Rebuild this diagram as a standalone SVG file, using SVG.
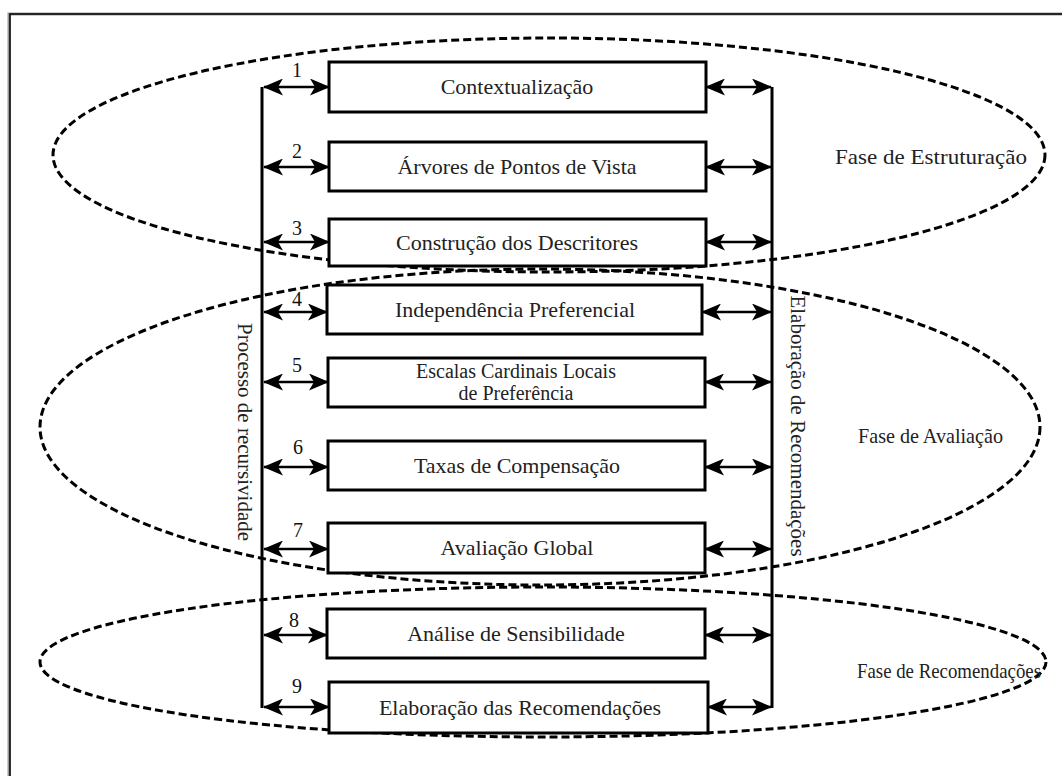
<svg xmlns="http://www.w3.org/2000/svg" width="1062" height="776" viewBox="0 0 1062 776">
  <style>
    .box { fill: #fff; stroke: #000; stroke-width: 3; }
    .bar { stroke: #000; stroke-width: 3; fill: none; }
    .link { stroke: #000; stroke-width: 2.5; fill: none; marker-start: url(#head); marker-end: url(#head); }
    .phase { fill: none; stroke: #000; stroke-width: 3; stroke-dasharray: 8 4; }
    .label { font-family: "Liberation Serif", "Times New Roman", serif; font-size: 22px; fill: #222; text-anchor: middle; }
    .small { font-size: 20px; }
    .num { font-family: "Liberation Serif", "Times New Roman", serif; font-size: 20px; fill: #111; text-anchor: middle; }
    .side { font-family: "Liberation Serif", "Times New Roman", serif; font-size: 21px; fill: #222; text-anchor: middle; }
    .tag { font-family: "Liberation Serif", "Times New Roman", serif; font-size: 21px; fill: #222; }
  </style>
  <defs>
    <marker id="head" viewBox="0 0 20 17" refX="19" refY="8.5" markerWidth="20" markerHeight="17" markerUnits="userSpaceOnUse" orient="auto-start-reverse">
      <path d="M0,0 L20,8.5 L0,17 L5,8.5 z" fill="#000"/>
    </marker>
  </defs>

  <rect width="1062" height="776" fill="#fff"/>
  <!-- outer frame (top and left edges) -->
  <path d="M9,776 V14 H1062" fill="none" stroke="#999" stroke-width="3"/>
  <path d="M10,776 V14 H1062" fill="none" stroke="#000" stroke-width="1.5"/>

  <!-- phase ellipses -->
  <g id="phases">
    <ellipse class="phase" cx="549" cy="155" rx="496" ry="117"/>
    <ellipse class="phase" cx="540" cy="427" rx="500" ry="158"/>
    <ellipse class="phase" cx="543" cy="662" rx="503" ry="75"/>
  </g>

  <!-- side rails and connectors -->
  <g id="connectors">
    <line class="bar" x1="262" y1="87" x2="262" y2="708"/>
    <line class="bar" x1="772" y1="87" x2="772" y2="708"/>
    <line class="link" x1="264" y1="87" x2="329" y2="87"/>
    <line class="link" x1="706" y1="87" x2="771" y2="87"/>
    <line class="link" x1="264" y1="167" x2="329" y2="167"/>
    <line class="link" x1="706" y1="167" x2="771" y2="167"/>
    <line class="link" x1="264" y1="242" x2="329" y2="242"/>
    <line class="link" x1="706" y1="242" x2="771" y2="242"/>
    <line class="link" x1="264" y1="312" x2="327" y2="312"/>
    <line class="link" x1="702" y1="312" x2="771" y2="312"/>
    <line class="link" x1="264" y1="382" x2="328" y2="382"/>
    <line class="link" x1="705" y1="382" x2="771" y2="382"/>
    <line class="link" x1="264" y1="467" x2="328" y2="467"/>
    <line class="link" x1="705" y1="467" x2="771" y2="467"/>
    <line class="link" x1="264" y1="549" x2="328" y2="549"/>
    <line class="link" x1="705" y1="549" x2="771" y2="549"/>
    <line class="link" x1="264" y1="635" x2="327" y2="635"/>
    <line class="link" x1="705" y1="635" x2="771" y2="635"/>
    <line class="link" x1="264" y1="707" x2="329" y2="707"/>
    <line class="link" x1="708" y1="707" x2="771" y2="707"/>
    <text class="num" x="297" y="77">1</text>
    <text class="num" x="297" y="158">2</text>
    <text class="num" x="297" y="235">3</text>
    <text class="num" x="297" y="306">4</text>
    <text class="num" x="297" y="372">5</text>
    <text class="num" x="298" y="454">6</text>
    <text class="num" x="298" y="537">7</text>
    <text class="num" x="294" y="627">8</text>
    <text class="num" x="297" y="693">9</text>
  </g>

  <g id="n1"><rect class="box" x="329" y="62" width="377" height="50"/><text class="label" x="517" y="94">Contextualização</text></g>
  <g id="n2"><rect class="box" x="329" y="142" width="377" height="49"/><text class="label" x="517" y="174">Árvores de Pontos de Vista</text></g>
  <g id="n3"><rect class="box" x="329" y="219" width="377" height="47"/><text class="label" x="517" y="250">Construção dos Descritores</text></g>
  <g id="n4"><rect class="box" x="327" y="285" width="375" height="49"/><text class="label" x="515" y="317">Independência Preferencial</text></g>
  <g id="n5"><rect class="box" x="328" y="358" width="377" height="49"/><text class="label small" x="516" y="378">Escalas Cardinais Locais</text><text class="label small" x="516" y="400">de Preferência</text></g>
  <g id="n6"><rect class="box" x="328" y="441" width="377" height="49"/><text class="label" x="517" y="473">Taxas de Compensação</text></g>
  <g id="n7"><rect class="box" x="328" y="523" width="377" height="50"/><text class="label" x="517" y="555">Avaliação Global</text></g>
  <g id="n8"><rect class="box" x="327" y="609" width="378" height="49"/><text class="label" x="516" y="641">Análise de Sensibilidade</text></g>
  <g id="n9"><rect class="box" x="329" y="682" width="379" height="51"/><text class="label" x="520" y="715">Elaboração das Recomendações</text></g>

  <!-- rail captions -->
  <g id="rail-left"><text class="side" transform="translate(238,432) rotate(90)">Processo de recursividade</text></g>
  <g id="rail-right"><text class="side" transform="translate(791,426) rotate(90)">Elaboração de Recomendações</text></g>

  <!-- phase captions -->
  <g id="phase-labels">
    <text class="tag" x="835" y="164" textLength="192" lengthAdjust="spacingAndGlyphs">Fase de Estruturação</text>
    <text class="tag" x="858" y="443" textLength="145" lengthAdjust="spacingAndGlyphs">Fase de Avaliação</text>
    <text class="tag" x="857" y="678" textLength="184" lengthAdjust="spacingAndGlyphs">Fase de Recomendações</text>
  </g>
</svg>
